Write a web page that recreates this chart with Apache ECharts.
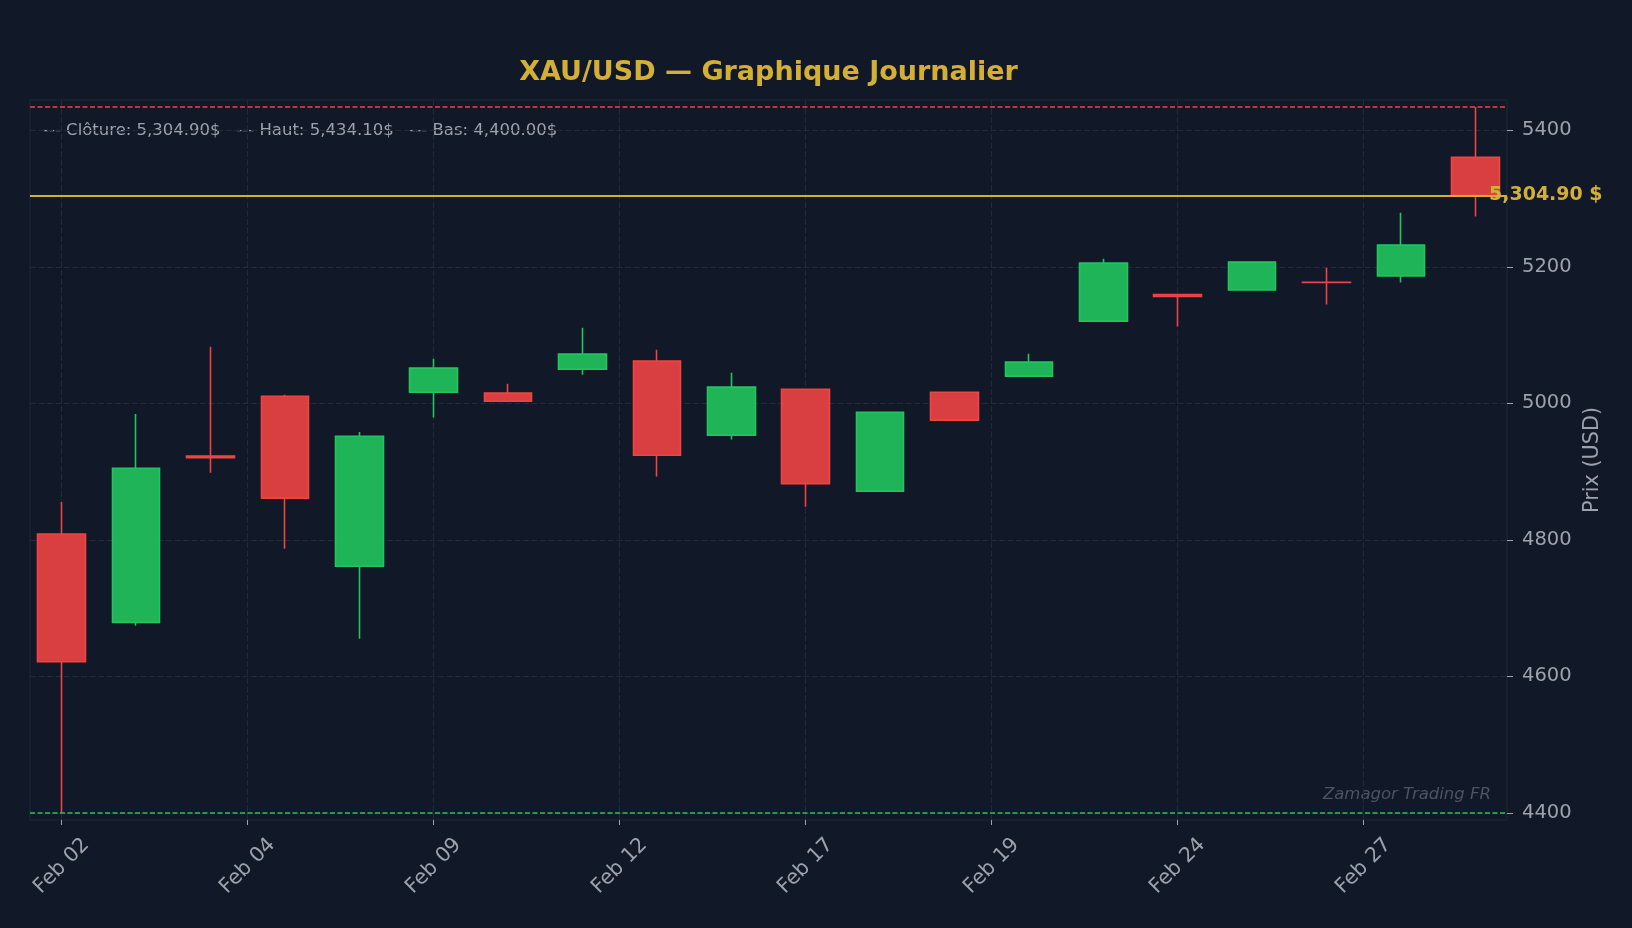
<!DOCTYPE html>
<html><head><meta charset="utf-8">
<script src="https://cdn.jsdelivr.net/npm/echarts@6/dist/echarts.min.js"></script>
<style>html,body{margin:0;padding:0;background:#111827;}#c{width:1632px;height:928px;}</style>
</head><body><div id="c"></div>
<script>
const dates = ['Feb 02','Feb 03','Feb 04','Feb 05','Feb 06','Feb 09','Feb 10','Feb 11','Feb 12','Feb 13','Feb 17','Feb 18','Feb 19','Feb 20','Feb 23','Feb 24','Feb 25','Feb 26','Feb 27','Mar 02'];
const opens  = [4808.6, 4679.2, 4923.0, 5010.5, 4761.3, 5016.4, 5015.0, 5050.1, 5061.9, 4953.4, 5020.8, 4871.3, 5016.4, 5039.9, 5120.5, 5159.5, 5166.0, 5177.5, 5186.5, 5360.4];
const closes = [4621.4, 4905.0, 4920.5, 4861.0, 4951.9, 5051.6, 5003.2, 5072.1, 4924.0, 5023.8, 4882.4, 4987.1, 4975.4, 5060.4, 5205.6, 5156.5, 5207.0, 5177.0, 5232.0, 5304.9];
const lows   = [4400.0, 4674.2, 4898.5, 4787.1, 4655.1, 4979.2, 5002.5, 5041.8, 4892.7, 4946.9, 4848.7, 4871.0, 4975.0, 5039.5, 5120.0, 5112.6, 5165.5, 5144.9, 5177.1, 5273.9];
const highs  = [4855.6, 4984.6, 5082.8, 5012.5, 4958.2, 5065.2, 5028.6, 5110.7, 5078.4, 5044.7, 5021.5, 4987.5, 5016.8, 5072.6, 5211.9, 5160.0, 5207.5, 5198.7, 5279.3, 5434.1];
const xTickPositions = [0, 2.5, 5, 7.5, 10, 12.5, 15, 17.5];
const priceTicks = [4400, 4600, 4800, 5000, 5200, 5400];
const lastClose = 5304.90;
const periodHigh = 5434.10;
const periodLow = 4400.00;

function pyRound(v) {
  const f = Math.floor(v);
  if (Math.abs(v - f - 0.5) < 1e-9) return (f % 2 === 0) ? f : f + 1;
  return Math.round(v);
}
function fmt(v) {
  return v.toLocaleString('en-US', {minimumFractionDigits: 2, maximumFractionDigits: 2});
}

const candleData = opens.map((o, i) => [i, o, closes[i], lows[i], highs[i]]);
const textGray = '#9ca3af';
const gridColor = '#232b3a';
const FONT = 'DejaVu Sans';

const chart = echarts.init(document.getElementById('c'), null, {renderer: 'canvas'});
chart.setOption({
  backgroundColor: '#111827',
  animation: false,
  textStyle: {fontFamily: FONT},
  title: {
    text: 'XAU/USD — Graphique Journalier',
    left: 763.5, top: 54, textAlign: 'center',
    textStyle: {color: '#d4af37', fontSize: 27, fontWeight: 'bold', fontFamily: FONT}
  },
  grid: {left: 30, right: 125, top: 100, bottom: 108, show: true, borderColor: '#1f2937', borderWidth: 1, backgroundColor: 'transparent'},
  xAxis: {
    type: 'value', min: -0.426, max: 19.426,
    axisLine: {show: false, onZero: false},
    axisTick: {show: true, customValues: xTickPositions, length: 5, lineStyle: {color: textGray, width: 1}},
    axisLabel: {
      customValues: xTickPositions,
      formatter: v => dates[pyRound(v)],
      rotate: 45, align: 'center', verticalAlign: 'middle', margin: 46,
      color: textGray, fontSize: 20.5, fontFamily: FONT
    },
    splitLine: {show: true, lineStyle: {color: gridColor, type: [6, 2.5], width: 1}}
  },
  yAxis: {
    type: 'value', position: 'right', min: 4389.66, max: 5444.44, scale: true,
    axisLine: {show: false, onZero: false},
    axisTick: {show: true, customValues: priceTicks, length: 6, lineStyle: {color: textGray, width: 1}},
    axisLabel: {customValues: priceTicks, formatter: v => String(v), margin: 15, color: textGray, fontSize: 19.5, fontFamily: FONT},
    splitLine: {show: true, lineStyle: {color: gridColor, type: [6, 2.5], width: 1}},
    name: 'Prix (USD)', nameLocation: 'middle', nameRotate: 90, nameGap: 69,
    nameTextStyle: {color: textGray, fontSize: 20.8, fontFamily: FONT}
  },
  series: [{
    type: 'candlestick',
    data: candleData,
    encode: {x: 0, y: [1, 2, 3, 4]},
    barWidth: 48,
    itemStyle: {
      color: 'rgba(34,197,94,0.9)', color0: 'rgba(239,68,68,0.9)',
      borderColor: '#22c55e', borderColor0: '#ef4444',
      borderWidth: 1.6
    },
    markLine: {
      silent: true, symbol: ['none', 'none'],
      data: [
        {yAxis: periodHigh, lineStyle: {color: '#ef4444', type: [5, 2.5], width: 1.5}, label: {show: false}},
        {yAxis: periodLow, lineStyle: {color: '#22c55e', type: [5, 2.5], width: 1.5}, label: {show: false}},
        {yAxis: lastClose, lineStyle: {color: '#d4af37', type: 'solid', width: 2},
         label: {show: true, position: 'end', distance: -18, formatter: fmt(lastClose) + ' $',
                 color: '#d4af37', fontWeight: 'bold', fontSize: 19, fontFamily: FONT}}
      ]
    }
  }],
  graphic: [
    {type: 'text', left: 43, top: 122, style: {
      text: '--- Clôture: ' + fmt(lastClose) + '$   --- Haut: ' + fmt(periodHigh) + '$   --- Bas: ' + fmt(periodLow) + '$',
      fill: textGray, fontSize: 16.5, fontFamily: FONT}},
    {type: 'text', right: 141, top: 786, style: {
      text: 'Zamagor Trading FR', fill: '#4b5563', fontSize: 16.5, fontStyle: 'italic', fontFamily: FONT}}
  ]
});
</script>
</body></html>
